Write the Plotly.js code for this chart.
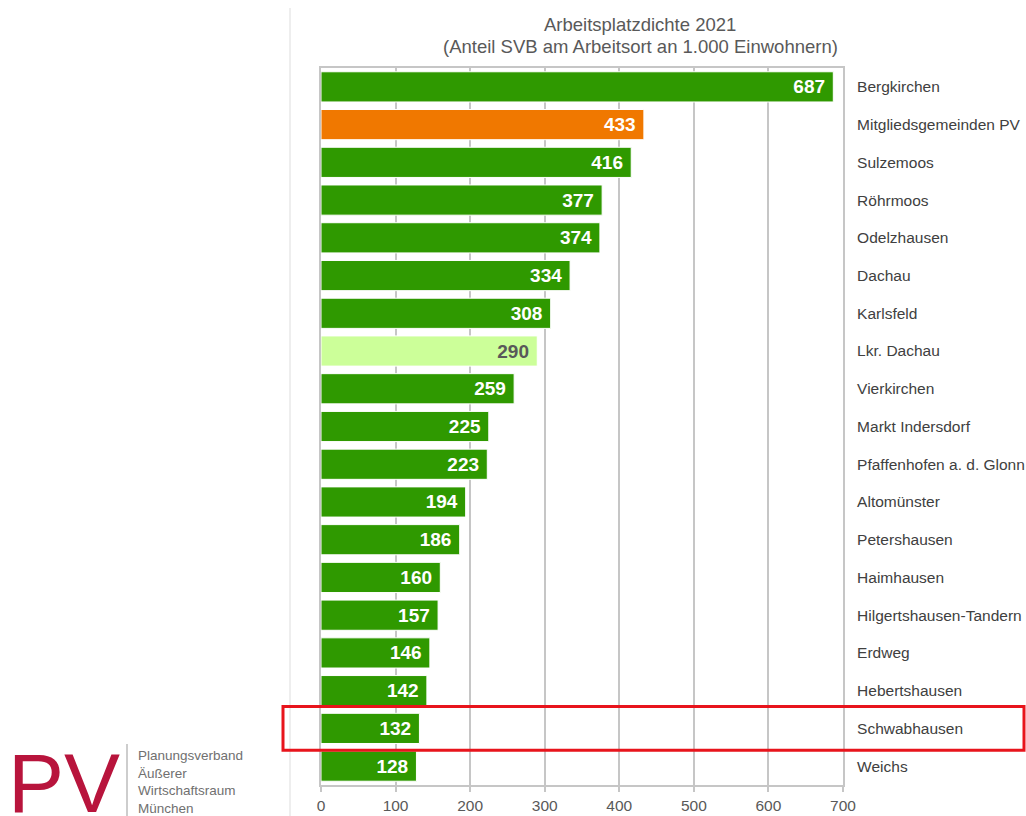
<!DOCTYPE html>
<html><head><meta charset="utf-8">
<script src="https://cdn.plot.ly/plotly-3.0.1.min.js"></script>
<style>body{margin:0;background:#fff}#c{width:1026px;height:816px}</style>
</head><body><div id="c"></div>
<script>
const categories = ["Bergkirchen","Mitgliedsgemeinden PV","Sulzemoos","Röhrmoos","Odelzhausen","Dachau","Karlsfeld","Lkr. Dachau","Vierkirchen","Markt Indersdorf","Pfaffenhofen a. d. Glonn","Altomünster","Petershausen","Haimhausen","Hilgertshausen-Tandern","Erdweg","Hebertshausen","Schwabhausen","Weichs"];
const values = [687,433,416,377,374,334,308,290,259,225,223,194,186,160,157,146,142,132,128];
const xTicks = [0,100,200,300,400,500,600,700];
const titleLines = ["Arbeitsplatzdichte 2021","(Anteil SVB am Arbeitsort an 1.000 Einwohnern)"];
const logoText = ["Planungsverband","Äußerer","Wirtschaftsraum","München"];
const highlighted = "Schwabhausen";

const F = 'Liberation Sans, Arial, sans-serif';
const colors = categories.map(c => c==="Mitgliedsgemeinden PV" ? "#f07800" : (c==="Lkr. Dachau" ? "#ccff99" : "#2f9900"));
const textColors = categories.map(c => c==="Lkr. Dachau" ? "#595959" : "#ffffff");

const trace = {
  type:'bar', orientation:'h', x:values, y:categories,
  marker:{color:colors, line:{color:'#ffffff', width:1}},
  text:values.map(v => String(v) + '\u00a0'), textposition:'inside', insidetextanchor:'end',
  textfont:{family:F, size:19, color:textColors, weight:'bold'},
  hoverinfo:'none'
};
const hi = categories.indexOf(highlighted);
const PH = 717, PW = 522;
const px = x => (x-321)/PW;
const py = y => (785-y)/PH;
const layout = {
  width:1026, height:816, margin:{l:321, r:183, t:68, b:31},
  paper_bgcolor:'#fff', plot_bgcolor:'#fff', showlegend:false, bargap:0.2,
  xaxis:{range:[0,700], tickvals:xTicks, ticktext:xTicks.map(String), showgrid:true, gridcolor:'#c6c6c6', gridwidth:2,
    showline:true, linecolor:'#c6c6c6', linewidth:2, mirror:true, ticks:'outside', ticklen:5, tickcolor:'#c6c6c6', tickwidth:2,
    zeroline:false, tickfont:{family:F, size:15.5, color:'#595959'}, fixedrange:true},
  yaxis:{categoryorder:'array', categoryarray:categories, autorange:'reversed', side:'right', showgrid:false,
    showline:true, linecolor:'#c6c6c6', linewidth:2, mirror:true, ticks:'', ticklabelstandoff:9,
    tickfont:{family:F, size:15.5, color:'#404040'}},
  shapes:[
    {type:'line', xref:'paper', yref:'paper', x0:px(290), x1:px(290), y0:py(816), y1:py(8), line:{color:'#e8e8e8', width:1.5}},
    {type:'rect', xref:'paper', yref:'y', x0:px(283), x1:px(1024), y0:hi-0.58, y1:hi+0.58, line:{color:'#e8141c', width:3}},
    {type:'line', xref:'paper', yref:'paper', x0:px(127), x1:px(127), y0:py(816), y1:py(744), line:{color:'#bdbdbd', width:1.5}}
  ],
  annotations:[
    {xref:'paper', yref:'paper', x:px(640), y:py(24), xanchor:'center', yanchor:'middle', text:titleLines[0], showarrow:false,
      font:{family:F, size:18.5, color:'#595959'}},
    {xref:'paper', yref:'paper', x:px(640), y:py(46), xanchor:'center', yanchor:'middle', text:titleLines[1], showarrow:false,
      font:{family:F, size:18.5, color:'#595959'}},
    {xref:'paper', yref:'paper', x:px(6), y:py(783), xanchor:'left', yanchor:'middle', text:'PV', showarrow:false,
      font:{family:F, size:84, color:'#b8143c'}},
    {xref:'paper', yref:'paper', x:px(136), y:py(782), xanchor:'left', yanchor:'middle', align:'left', showarrow:false,
      text:logoText.join('<br>'),
      font:{family:F, size:13.5, color:'#707070'}}
  ]
};
Plotly.newPlot('c',[trace],layout,{displayModeBar:false, staticPlot:true});
</script></body></html>
